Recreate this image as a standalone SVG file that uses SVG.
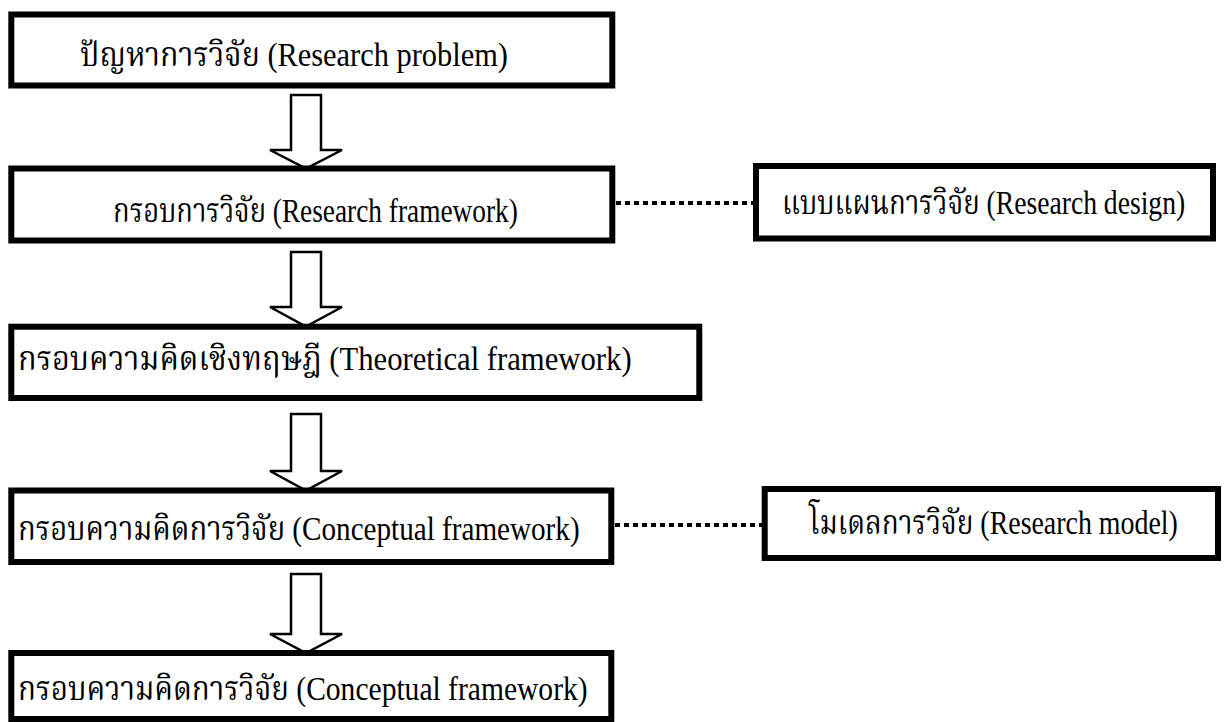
<svg xmlns="http://www.w3.org/2000/svg" width="1229" height="722" viewBox="0 0 1229 722">
<style>
.box{fill:#fff;stroke:#000;stroke-width:6}
.arrow{fill:#fff;stroke:#000;stroke-width:2.5;stroke-linejoin:miter}
.dot{fill:none;stroke:#000;stroke-width:4;stroke-dasharray:5 4}
.t{font-family:"Liberation Serif","Noto Serif Thai","Noto Sans Thai","Norasi","Kinnari","Tlwg Typo","Noto Sans",serif;font-size:33px;fill:#000}
</style>
<rect width="1229" height="722" fill="#fff"/>
<g id="connectors">
<polygon class="arrow" points="291,95 321,95 321,150 342,150 306,168.5 270,150 291,150"/>
<polygon class="arrow" points="291,252 321,252 321,307 342,307 306,326.7 270,307 291,307"/>
<polygon class="arrow" points="291,414 321,414 321,471 342,471 306,490.5 270,471 291,471"/>
<polygon class="arrow" points="291,574 321,574 321,634 342,634 306,653 270,634 291,634"/>
<line class="dot" x1="616" y1="203" x2="753" y2="203"/>
<line class="dot" x1="615" y1="525" x2="762" y2="525"/>
</g>
<g id="n1">
<rect class="box" x="11.3" y="14.5" width="601" height="71"/>
<text class="t" transform="translate(80,66) scale(0.8,1)" textLength="535" lengthAdjust="spacingAndGlyphs">ปัญหาการวิจัย (Research problem)</text>
</g>
<g id="n2">
<rect class="box" x="11.3" y="168.5" width="601" height="72"/>
<text class="t" transform="translate(113,222) scale(0.8,1)" textLength="506" lengthAdjust="spacingAndGlyphs">กรอบการวิจัย (Research framework)</text>
</g>
<g id="n_design">
<rect class="box" x="756" y="166" width="457" height="72.5"/>
<text class="t" transform="translate(782,214) scale(0.8,1)" textLength="504" lengthAdjust="spacingAndGlyphs">แบบแผนการวิจัย (Research design)</text>
</g>
<g id="n3">
<rect class="box" x="11.3" y="326.7" width="688" height="71.3"/>
<text class="t" transform="translate(18,370) scale(0.8,1)" textLength="767" lengthAdjust="spacingAndGlyphs">กรอบความคิดเชิงทฤษฎี (Theoretical framework)</text>
</g>
<g id="n4">
<rect class="box" x="11.3" y="490.5" width="600" height="71.5"/>
<text class="t" transform="translate(18,540) scale(0.8,1)" textLength="702" lengthAdjust="spacingAndGlyphs">กรอบความคิดการวิจัย (Conceptual framework)</text>
</g>
<g id="n_model">
<rect class="box" x="764.7" y="489" width="453.3" height="69"/>
<text class="t" transform="translate(809,534) scale(0.8,1)" textLength="461" lengthAdjust="spacingAndGlyphs">โมเดลการวิจัย (Research model)</text>
</g>
<g id="n5">
<rect class="box" x="11.3" y="653" width="600" height="66"/>
<text class="t" transform="translate(18,700) scale(0.8,1)" textLength="712" lengthAdjust="spacingAndGlyphs">กรอบความคิดการวิจัย (Conceptual framework)</text>
</g>
</svg>
